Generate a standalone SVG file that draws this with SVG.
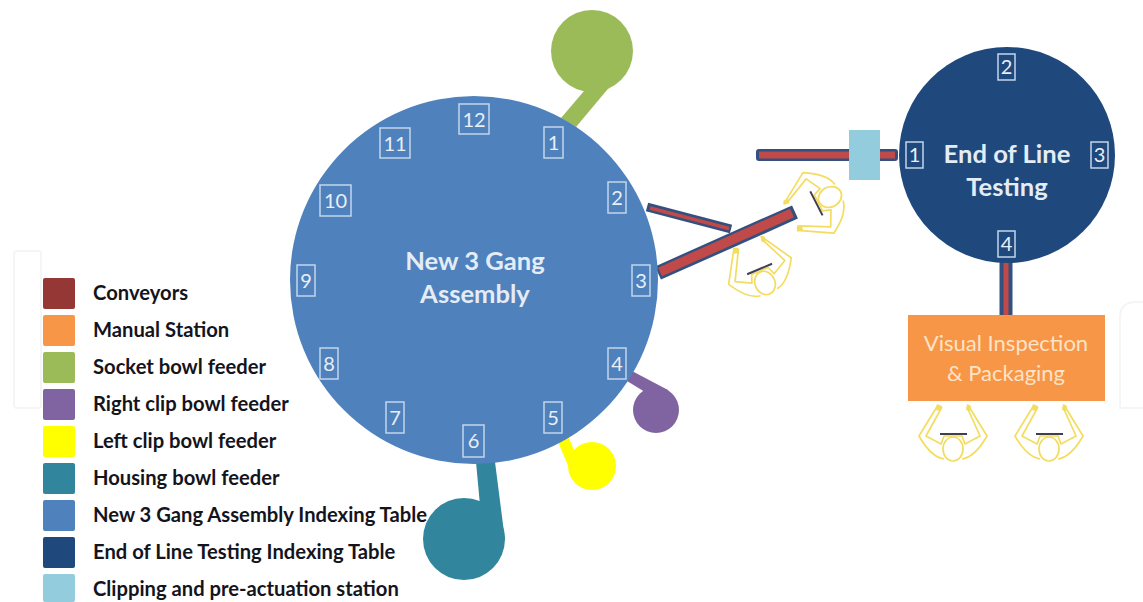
<svg xmlns="http://www.w3.org/2000/svg" xmlns:xlink="http://www.w3.org/1999/xlink" width="1143" height="602" viewBox="0 0 1143 602">
<style>
text{font-family:"Lato","Open Sans","Liberation Sans",sans-serif}
.leg{font-size:20.2px;font-weight:700;fill:#14141c}
.sw{stroke:none}
.box{fill:none;stroke:#c3d5ec;stroke-width:1.5}
.n{font-size:20px;fill:#e8eff8;text-anchor:middle}
.title{font-size:25.6px;font-weight:700;fill:#e4ecf6;text-anchor:middle}
.cb{stroke:#34507e;stroke-linecap:butt;fill:none}
.cr{stroke:#c0494a;fill:none}
.p{fill:none;stroke:#f4dc60;stroke-width:1.7;stroke-linejoin:round}
.desk{stroke:#3f3f50;stroke-width:2}
.wm{fill:none;stroke:#f5f5f5;stroke-width:2}
</style>
<defs>
<g id="person">
<path class="p" d="M-15,-44 L-34,-13 Q-22,8 -9,10 M-11,-42 L-27,-13 L-12,-5 L-9,-13 L9,-13 L12,-5 L27,-13 L14,-42 M15,-44 L34,-13 Q22,8 9,10"/>
<ellipse class="p" cx="0" cy="0" rx="10" ry="12"/>
<path d="M-16,-45 L-11,-43 L-13,-38 L-17,-39 Z M14,-45 L18,-43 L17,-38 L13,-39 Z" fill="#f4dc60"/>
<line class="desk" x1="-13" y1="-15" x2="14" y2="-15"/>
</g>
</defs>
<rect width="1143" height="602" fill="#fff"/>
<g id="watermark">
<rect class="wm" x="14" y="251" width="27" height="157" rx="3"/>
<path class="wm" d="M1143,302 H1136 Q1120,302 1120,318 V408 H1143"/>
</g>
<g id="connectors">
<path d="M561,118 L576,127 L612,84 L590,84 Z" fill="#9bbb59"/>
<path d="M632,371 L627,381 L645,392 L670,400 L668,390 Z" fill="#8064a2"/>
<path d="M558,442 L569,438 L580,465 L572,475 Z" fill="#ffff00"/>
<path d="M476,462 L495,462 L505,540 L470,520 L480,505 Z" fill="#31859c"/>
<path class="cb" d="M647,207 L731,229" stroke-width="9"/>
<path class="cr" d="M650,208 L729,228.500" stroke-width="3.500"/>
<path class="cb" d="M658,273 L795,212" stroke-width="14.500"/>
<path class="cr" d="M660,272 L792,213" stroke-width="9.500"/>
<rect x="756" y="149" width="142" height="12" rx="3" fill="#34507e"/>
<path class="cr" d="M759,155 H895" stroke-width="7"/>
<path class="cb" d="M1006,262 V316" stroke-width="13"/>
<path class="cr" d="M1006,262 V316" stroke-width="5"/>
</g>
<g id="socket-feeder"><circle cx="592" cy="51" r="41" fill="#9bbb59"/></g>
<g id="right-clip-feeder"><circle cx="656" cy="410" r="23" fill="#8064a2"/></g>
<g id="left-clip-feeder"><circle cx="592" cy="466" r="24" fill="#ffff00"/></g>
<g id="housing-feeder"><circle cx="464" cy="539" r="41" fill="#31859c"/></g>
<g id="assembly-table">
<circle cx="474" cy="280" r="184" fill="#4f81bd"/>
<text class="title" x="475" y="270">New 3 Gang</text>
<text class="title" x="475" y="303">Assembly</text>
<rect class="box" x="459" y="104" width="30" height="30"/><text class="n" x="474" y="127">12</text>
<rect class="box" x="544" y="127" width="19" height="31"/><text class="n" x="553.500" y="150">1</text>
<rect class="box" x="608" y="182" width="18" height="31"/><text class="n" x="617" y="205">2</text>
<rect class="box" x="632" y="265" width="18" height="31"/><text class="n" x="641" y="288">3</text>
<rect class="box" x="608" y="348" width="18" height="31"/><text class="n" x="617" y="371">4</text>
<rect class="box" x="544" y="402" width="18" height="31"/><text class="n" x="553" y="425">5</text>
<rect class="box" x="463" y="425" width="21" height="32"/><text class="n" x="473.500" y="448">6</text>
<rect class="box" x="386" y="402" width="18" height="31"/><text class="n" x="395" y="425">7</text>
<rect class="box" x="320" y="348" width="18" height="31"/><text class="n" x="329" y="371">8</text>
<rect class="box" x="297" y="265" width="18" height="31"/><text class="n" x="306" y="288">9</text>
<rect class="box" x="320" y="185" width="31" height="31"/><text class="n" x="335.500" y="208">10</text>
<rect class="box" x="380" y="128" width="30" height="30"/><text class="n" x="395" y="151">11</text>
</g>
<g id="testing-table">
<circle cx="1007" cy="155" r="108" fill="#1f497d"/>
<text class="title" x="1007" y="163">End of Line</text>
<text class="title" x="1007" y="196">Testing</text>
<rect class="box" x="906" y="142" width="17" height="26"/><text class="n" x="914.500" y="162">1</text>
<rect class="box" x="998" y="54" width="17" height="26"/><text class="n" x="1006.500" y="74">2</text>
<rect class="box" x="1091" y="142" width="17" height="26"/><text class="n" x="1099.500" y="162">3</text>
<rect class="box" x="998" y="231" width="17" height="26"/><text class="n" x="1006.500" y="251">4</text>
</g>
<g id="clipping-station"><rect x="849" y="130" width="31" height="50" fill="#93cddd"/></g>
<g id="visual-inspection">
<rect x="908" y="315" width="197" height="86" fill="#f79646"/>
<text x="1006" y="351" font-size="22" fill="#fde3c8" text-anchor="middle">Visual Inspection</text>
<text x="1006" y="381" font-size="22" fill="#fde3c8" text-anchor="middle">&amp; Packaging</text>
</g>
<g id="operators">
<use xlink:href="#person" href="#person" transform="translate(830,197) rotate(-117)"/>
<use xlink:href="#person" href="#person" transform="translate(765,283) rotate(-23)"/>
<use xlink:href="#person" href="#person" transform="translate(953,449)"/>
<use xlink:href="#person" href="#person" transform="translate(1049,449)"/>
</g>
<g id="legend">
<rect class="sw" x="43" y="278" width="32" height="31" rx="2" fill="#953735"/>
<rect class="sw" x="43" y="315" width="32" height="31" rx="2" fill="#f79646"/>
<rect class="sw" x="43" y="352" width="32" height="31" rx="2" fill="#9bbb59"/>
<rect class="sw" x="43" y="389" width="32" height="31" rx="2" fill="#8064a2"/>
<rect class="sw" x="43" y="426" width="32" height="31" rx="2" fill="#ffff00"/>
<rect class="sw" x="43" y="463" width="32" height="31" rx="2" fill="#31859c"/>
<rect class="sw" x="43" y="500" width="32" height="31" rx="2" fill="#4f81bd"/>
<rect class="sw" x="43" y="537" width="32" height="31" rx="2" fill="#1f497d"/>
<rect class="sw" x="43" y="574" width="32" height="28" rx="2" fill="#93cddd"/>
<text class="leg" x="93" y="300">Conveyors</text>
<text class="leg" x="93" y="337">Manual Station</text>
<text class="leg" x="93" y="374">Socket bowl feeder</text>
<text class="leg" x="93" y="411">Right clip bowl feeder</text>
<text class="leg" x="93" y="448">Left clip bowl feeder</text>
<text class="leg" x="93" y="485">Housing bowl feeder</text>
<text class="leg" x="93" y="522">New 3 Gang Assembly Indexing Table</text>
<text class="leg" x="93" y="559">End of Line Testing Indexing Table</text>
<text class="leg" x="93" y="596">Clipping and pre-actuation station</text>
</g>
</svg>
